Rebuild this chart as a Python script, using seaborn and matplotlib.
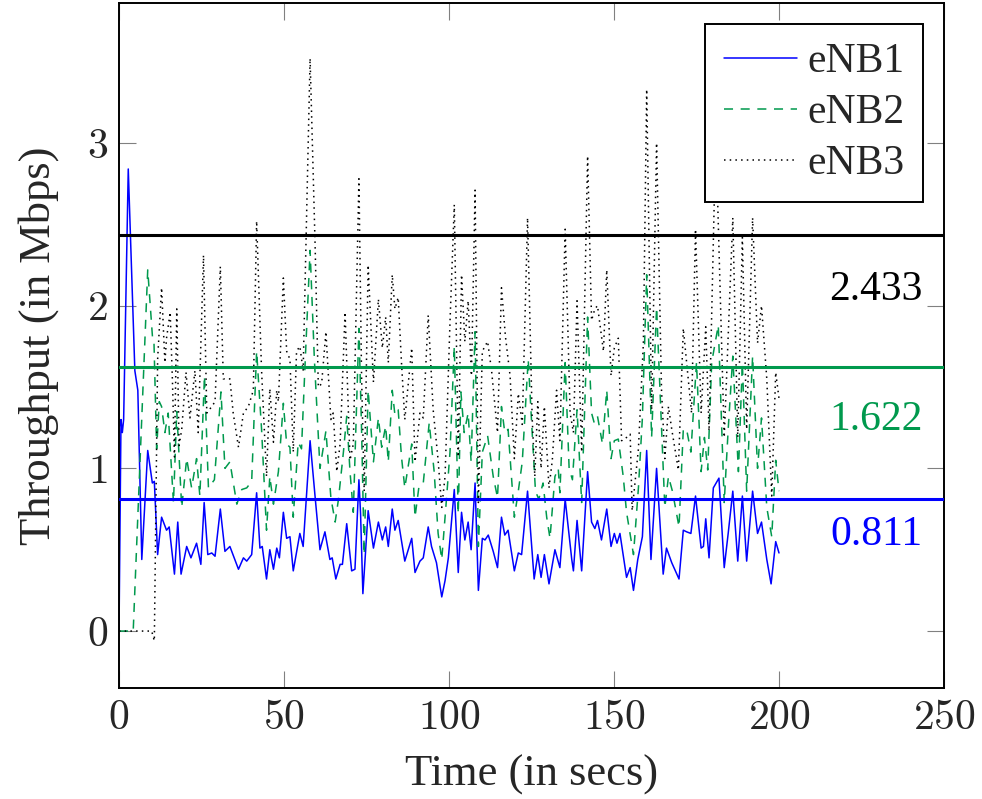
import matplotlib
matplotlib.use('Agg')
import matplotlib.pyplot as plt
import seaborn as sns
import pandas as pd

# eNB1 throughput (Mbps) at its turning points
enb1_t = [0, 0.6, 1.0, 1.4, 2.8, 4.8, 5.7, 6.9, 8.7, 10.1, 10.7, 11.7, 12.9, 14.4, 15.2, 16.8, 17.8, 18.8,
          20.5, 21.8, 23.5, 24.8, 25.8, 26.9, 28.1, 29.1, 30.7, 32.1, 33.6, 36.2, 37.7, 38.7, 40.2, 41.7,
          42.7, 43.4, 44.7, 45.7, 46.8, 47.8, 48.6, 49.8, 50.8, 51.8, 52.8, 54.8, 55.8, 57.9, 59.4, 60.9,
          62.4, 63.9, 64.6, 65.7, 67.0, 67.7, 69.0, 70.5, 71.5, 72.7, 73.2, 73.9, 75.5, 77.1, 78.6, 79.8,
          80.8, 81.6, 82.8, 83.6, 84.6, 86.6, 88.7, 89.7, 91.2, 92.2, 93.7, 94.7, 96.2, 97.8, 98.8, 99.8,
          101.6, 102.8, 103.8, 104.8, 105.8, 106.7, 107.9, 108.9, 110.1, 110.9, 111.9, 113.4, 114.7, 115.9,
          116.9, 117.9, 119.8, 121.0, 122.0, 123.8, 125.8, 126.9, 127.9, 128.9, 130.3, 132.1, 133.6, 135.2,
          137.2, 137.7, 138.8, 140.2, 142.0, 143.2, 144.2, 145.0, 146.2, 147.8, 149.1, 150.1, 150.9, 151.8,
          153.8, 154.9, 155.9, 157.2, 158.6, 159.9, 161.2, 162.9, 164.9, 165.9, 167.5, 169.7, 171.0, 172.0,
          173.3, 174.7, 176.4, 177.1, 177.8, 178.8, 180.1, 181.8, 183.4, 184.6, 186.0, 187.5, 188.9, 190.2,
          192.0, 193.5, 194.7, 196.3, 197.6, 199.0, 200.0]
enb1_v = [0, 1.30, 1.22, 1.30, 2.84, 1.60, 1.48, 0.44, 1.11, 0.91, 0.92, 0.47, 0.70, 0.62, 0.64, 0.35, 0.67, 0.35,
          0.52, 0.45, 0.54, 0.41, 0.79, 0.47, 0.48, 0.46, 0.75, 0.49, 0.52, 0.38, 0.45, 0.43, 0.47, 0.85,
          0.51, 0.52, 0.32, 0.50, 0.38, 0.51, 0.45, 0.73, 0.57, 0.58, 0.37, 0.60, 0.52, 1.17, 0.83, 0.50,
          0.61, 0.44, 0.45, 0.32, 0.41, 0.41, 0.66, 0.37, 0.38, 0.93, 0.72, 0.23, 0.74, 0.51, 0.67, 0.56,
          0.64, 0.52, 0.75, 0.62, 0.68, 0.43, 0.57, 0.36, 0.43, 0.45, 0.64, 0.52, 0.42, 0.21, 0.31, 0.45,
          0.87, 0.36, 0.73, 0.56, 0.67, 0.50, 0.91, 0.25, 0.57, 0.56, 0.59, 0.49, 0.39, 0.70,
          0.59, 0.62, 0.37, 0.48, 0.47, 0.86, 0.32, 0.47, 0.33, 0.47, 0.29, 0.50, 0.39, 0.81,
          0.44, 0.37, 0.68, 0.37, 0.98, 0.67, 0.63, 0.68, 0.56, 0.75, 0.52, 0.60, 0.54, 0.60,
          0.33, 0.39, 0.25, 0.44, 0.58, 1.11, 0.44, 1.00, 0.35, 0.51, 0.42, 0.32, 0.62, 0.61,
          0.60, 0.83, 0.51, 0.52, 0.69, 0.45, 0.88, 0.94, 0.39, 0.60, 0.86, 0.43, 0.83, 0.43,
          0.86, 0.60, 0.67, 0.44, 0.29, 0.55, 0.48]

# eNB2
enb2_t = [0, 4.3, 8.7, 10.2, 10.6, 11.4, 12.2, 12.9, 13.9, 14.9, 16.5, 17.5, 19.0, 20.5, 22.0, 23.5, 24.5,
          25.9, 27.1, 28.9, 30.9, 32.1, 33.6, 35.7, 37.2, 38.7, 40.2, 41.7, 43.2, 44.7, 45.7, 46.8, 48.3,
          49.8, 50.8, 51.8, 52.8, 54.3, 55.3, 56.4, 57.9, 59.2, 60.9, 62.7, 64.2, 65.5, 66.5, 68.0, 69.0,
          70.0, 71.0, 72.7, 73.5, 74.3, 75.5, 77.1, 78.6, 79.6, 80.8, 81.6, 82.8, 83.6, 84.6, 85.6, 86.6,
          88.7, 89.7, 90.9, 92.2, 94.0, 95.5, 96.7, 97.8, 99.3, 100.3, 101.6, 102.8, 103.6, 104.6, 105.8,
          106.7, 107.9, 108.9, 110.1, 111.7, 113.4, 114.7, 115.9, 116.9, 117.9, 119.8, 121.0, 122.2, 124.0,
          125.2, 126.2, 127.2, 128.5, 129.6, 130.6, 132.1, 133.1, 133.6, 135.2, 136.4, 137.4, 138.8, 140.2,
          142.0, 143.2, 144.0, 145.0, 146.5, 147.8, 149.1, 150.1, 151.3, 152.8, 153.8, 155.9, 157.4, 158.6,
          159.9, 161.4, 162.9, 164.4, 165.4, 166.5, 167.7, 169.7, 171.0, 172.0, 173.3, 175.0, 176.4, 177.4,
          178.4, 179.6, 181.6, 183.4, 184.6, 186.0, 187.7, 188.9, 190.2, 192.0, 193.5, 194.7, 196.3, 197.8,
          199.0, 200.0]
enb2_v = [0, 0, 2.22, 1.79, 1.77, 1.12, 1.41, 1.38, 1.22, 1.34, 0.79, 1.35, 0.76, 1.06, 0.88, 1.06, 0.83,
          1.57, 0.88, 0.93, 1.47, 1.00, 1.04, 0.78, 0.87, 0.88, 0.92, 1.72, 1.24, 0.62, 0.95, 0.78, 0.98,
          1.40, 1.15, 1.13, 0.70, 1.16, 1.12, 1.65, 2.34, 1.67, 1.00, 1.23, 0.82, 0.67, 0.81, 1.10, 1.32,
          0.98, 0.73, 1.86, 1.24, 0.47, 1.48, 1.04, 1.31, 1.13, 1.26, 1.04, 1.48, 1.33, 1.36, 1.07, 0.88,
          1.15, 0.70, 0.89, 0.91, 1.28, 0.98, 0.60, 0.44, 0.83, 1.10, 1.75, 0.72, 1.47, 1.22, 1.34,
          1.04, 1.84, 0.52, 1.10, 1.20, 0.95, 0.82, 1.38, 1.22, 1.24, 0.70, 0.86, 1.04, 1.67,
          1.22, 0.86, 0.81, 0.91, 0.70, 0.57, 0.95, 1.00, 0.85, 1.65, 1.00, 0.93, 1.36, 0.79,
          1.93, 1.34, 1.28, 1.32, 1.15, 1.48, 1.06, 1.17, 1.18, 0.95, 0.73, 0.47, 0.88, 1.31,
          2.19, 1.19, 1.99, 1.26, 0.76, 0.95, 0.86, 0.64, 1.24, 1.24, 1.10, 1.65, 0.98, 1.19,
          0.99, 1.65, 1.88, 0.79, 1.24, 1.69, 0.98, 1.65, 0.86, 1.69, 1.00, 1.31, 0.76, 0.58,
          1.05, 0.86]

# eNB3
enb3_t = [0, 9.9, 10.7, 11.7, 12.9, 13.9, 14.4, 15.5, 16.2, 16.8, 17.5, 18.2, 19.0, 20.3, 21.5, 23.0, 24.0,
          25.6, 26.6, 28.1, 29.1, 30.7, 31.6, 33.6, 34.6, 36.2, 37.7, 39.2, 40.7, 41.7, 43.2, 44.7, 45.7,
          46.8, 47.8, 48.3, 49.8, 50.8, 51.8, 52.8, 53.8, 54.8, 55.8, 57.9, 59.4, 60.4, 61.4, 62.7, 64.2,
          64.9, 66.0, 67.0, 68.5, 70.0, 71.0, 72.7, 73.5, 74.3, 75.5, 77.1, 78.6, 79.8, 80.8, 81.6, 82.8,
          83.6, 84.6, 85.6, 86.6, 88.7, 89.7, 91.2, 92.2, 93.7, 95.2, 96.7, 97.8, 98.8, 100.3, 101.6, 102.8,
          103.8, 104.8, 105.8, 106.8, 107.9, 108.9, 110.1, 111.7, 112.9, 114.7, 115.9, 117.1, 118.5, 119.8,
          121.0, 122.2, 123.8, 125.2, 126.0, 126.9, 127.9, 128.9, 130.3, 131.3, 132.6, 133.6, 135.2, 136.7,
          137.7, 138.8, 140.2, 142.0, 143.2, 144.2, 145.0, 146.8, 147.8, 149.1, 150.1, 151.3, 152.3, 153.8,
          154.9, 155.5, 157.4, 158.9, 159.9, 161.4, 162.9, 164.4, 165.4, 166.5, 167.5, 169.5, 171.0, 172.5,
          173.5, 174.7, 176.4, 177.8, 178.8, 180.4, 181.4, 183.4, 186.0, 187.5, 188.9, 190.2, 192.0, 193.5,
          194.7, 196.3, 197.8, 199.0, 200.0]
enb3_v = [0, 0, -0.06, 1.67, 2.11, 1.65, 1.80, 1.96, 1.53, 1.07, 1.98, 1.14, 1.24, 1.59, 1.31, 1.60, 1.22,
          2.31, 1.34, 1.38, 1.41, 2.24, 1.55, 1.55, 1.34, 1.13, 1.34, 1.38, 1.48, 2.52, 1.60, 0.95, 1.49,
          1.16, 1.48, 1.41, 2.17, 1.72, 1.67, 1.10, 1.72, 1.75, 1.60, 3.52, 2.39, 1.50, 1.52, 1.84, 1.30,
          1.34, 0.98, 1.15, 1.96, 1.05, 1.15, 2.78, 1.57, 0.86, 2.25, 1.53, 2.04, 1.74, 1.93, 1.65, 2.19,
          1.98, 2.05, 1.65, 1.30, 1.74, 1.04, 1.34, 1.31, 1.94, 1.36, 1.05, 0.76, 0.95, 1.90, 2.62, 1.07,
          2.19, 1.78, 2.03, 1.57, 2.71, 0.79, 1.72, 1.78, 1.60, 1.22, 2.11, 1.81, 1.57, 1.06,
          1.46, 1.27, 2.54, 1.31, 0.95, 1.41, 1.00, 1.38, 0.88, 1.05, 1.48, 1.17, 2.47, 1.34,
          1.22, 2.03, 1.10, 2.92, 1.91, 1.98, 2.00, 1.72, 2.22, 1.57, 1.74, 1.80, 1.17, 1.19,
          1.21, 0.74, 1.12, 1.77, 3.33, 1.36, 3.00, 1.48, 1.06, 1.38, 1.24, 0.99, 1.86, 1.55,
          1.34, 2.47, 1.34, 1.87, 1.23, 2.66, 2.65, 1.19, 2.54, 1.19, 2.42, 1.24, 2.54, 1.77,
          2.00, 1.55, 0.83, 1.59, 1.43]

series_names = ['eNB1', 'eNB2', 'eNB3']
mean_values = [0.811, 1.622, 2.433]
mean_labels = ['0.811', '1.622', '2.433']

x_ticks = [0, 50, 100, 150, 200, 250]
y_ticks = [0, 1, 2, 3]

blue = '#0000ff'
green = '#00994d'
colors = [blue, green, 'black']

sns.set_theme(style='white')
plt.rcParams['font.family'] = ['Liberation Serif', 'DejaVu Serif']
plt.rcParams['mathtext.fontset'] = 'cm'
plt.rcParams['lines.scale_dashes'] = False

df = pd.concat([
    pd.DataFrame({'t': enb1_t, 'v': enb1_v, 'node': 'eNB1'}),
    pd.DataFrame({'t': enb2_t, 'v': enb2_v, 'node': 'eNB2'}),
    pd.DataFrame({'t': enb3_t, 'v': enb3_v, 'node': 'eNB3'}),
])

fig = plt.figure(figsize=(9.82, 7.99), dpi=100)
ax = fig.add_axes([0.1212, 0.1389, 0.8401, 0.8573])

styles = {'eNB1': '-', 'eNB2': (0, (6.5, 5.5)), 'eNB3': (0, (1.1, 3.0))}
for name, col in zip(series_names, colors):
    sub = df[df['node'] == name]
    sns.lineplot(data=sub, x='t', y='v', ax=ax, color=col, linewidth=1.1,
                 linestyle=styles[name], estimator=None, sort=False, label=name)

label_offsets = [-26, -38, -39]  # points below each mean line
for val, lab, col, off in zip(mean_values, mean_labels, colors, label_offsets):
    ax.axhline(val, color=col, linewidth=2.2, zorder=3)
    ax.annotate(lab, xy=(243.6, val), xytext=(0, off), textcoords='offset points',
                ha='right', va='center', color=col, fontsize=30)

ax.set_xlim(0, 250)
ax.set_ylim(-0.35, 3.86)
ax.set_xticks(x_ticks)
ax.set_yticks(y_ticks)
ax.set_xticklabels([f'${v}$' for v in x_ticks])
ax.set_yticklabels([f'${v}$' for v in y_ticks])
ax.tick_params(direction='in', length=12, width=0.8, color='#808080', labelsize=30,
               top=True, right=True, bottom=True, left=True, pad=8)
for s in ax.spines.values():
    s.set_color('black')
    s.set_linewidth(1.4)

ax.set_xlabel('Time (in secs)', fontsize=32, labelpad=12)
ax.set_ylabel('Throughput (in Mbps)', fontsize=32, labelpad=20)

leg = ax.legend(loc='upper right', fontsize=30, frameon=True, fancybox=False, edgecolor='black',
                handlelength=1.75, handletextpad=0.25, labelspacing=0.3, borderpad=0.45,
                borderaxespad=0.5)
leg.get_frame().set_linewidth(1.4)
leg.get_frame().set_alpha(1)

fig.savefig('out.png', dpi=100)
